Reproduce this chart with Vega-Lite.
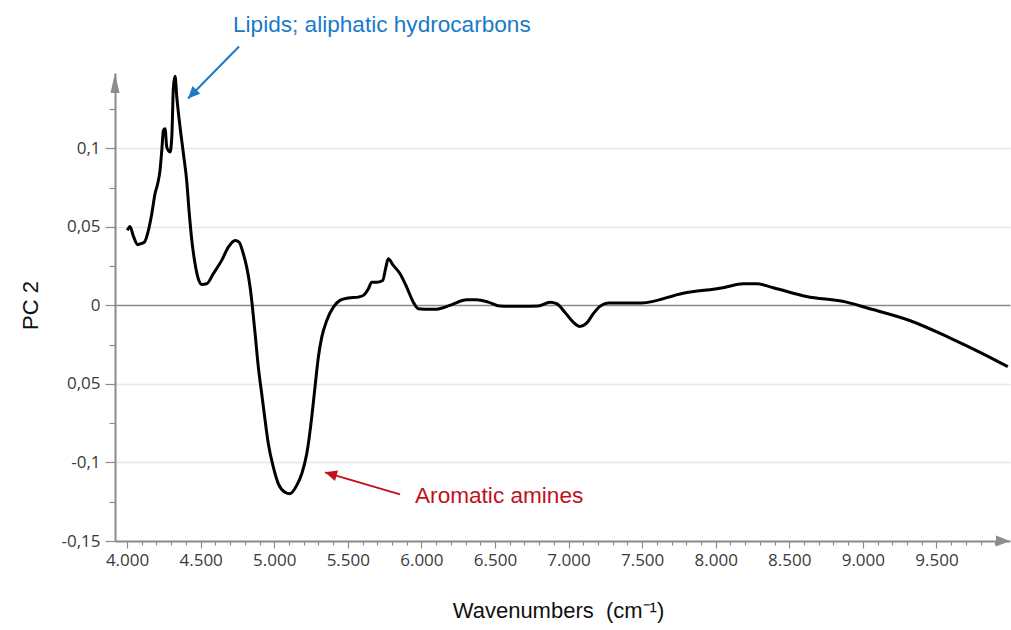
{
  "$schema": "https://vega.github.io/schema/vega-lite/v6.json",
  "width": 895,
  "height": 468,
  "autosize": "none",
  "padding": {"left": 115, "top": 73, "right": 1, "bottom": 89},
  "background": "white",
  "config": {"view": {"stroke": null}},
  "datasets": {
    "curve": [
      {"wn": 4002, "pc2": 0.0478}, {"wn": 4020, "pc2": 0.0503}, {"wn": 4041, "pc2": 0.0446},
      {"wn": 4073, "pc2": 0.0387}, {"wn": 4100, "pc2": 0.0395}, {"wn": 4118, "pc2": 0.0403},
      {"wn": 4145, "pc2": 0.0478}, {"wn": 4168, "pc2": 0.0584}, {"wn": 4190, "pc2": 0.0711},
      {"wn": 4208, "pc2": 0.0775}, {"wn": 4224, "pc2": 0.086}, {"wn": 4236, "pc2": 0.0987},
      {"wn": 4247, "pc2": 0.1115}, {"wn": 4258, "pc2": 0.1125}, {"wn": 4270, "pc2": 0.1008},
      {"wn": 4292, "pc2": 0.0977}, {"wn": 4304, "pc2": 0.1072}, {"wn": 4315, "pc2": 0.139},
      {"wn": 4326, "pc2": 0.1459}, {"wn": 4338, "pc2": 0.1327}, {"wn": 4360, "pc2": 0.1136},
      {"wn": 4383, "pc2": 0.0966}, {"wn": 4405, "pc2": 0.0796}, {"wn": 4421, "pc2": 0.0605},
      {"wn": 4440, "pc2": 0.0414}, {"wn": 4462, "pc2": 0.0266}, {"wn": 4484, "pc2": 0.017},
      {"wn": 4507, "pc2": 0.0134}, {"wn": 4541, "pc2": 0.0138}, {"wn": 4586, "pc2": 0.0202},
      {"wn": 4643, "pc2": 0.0287}, {"wn": 4688, "pc2": 0.0371}, {"wn": 4734, "pc2": 0.0414},
      {"wn": 4761, "pc2": 0.0403}, {"wn": 4790, "pc2": 0.0329}, {"wn": 4813, "pc2": 0.0244},
      {"wn": 4836, "pc2": 0.0117}, {"wn": 4847, "pc2": 0.0032}, {"wn": 4870, "pc2": -0.018},
      {"wn": 4892, "pc2": -0.0393}, {"wn": 4915, "pc2": -0.0562}, {"wn": 4938, "pc2": -0.0732},
      {"wn": 4960, "pc2": -0.0881}, {"wn": 4994, "pc2": -0.103}, {"wn": 5028, "pc2": -0.1136},
      {"wn": 5073, "pc2": -0.1189}, {"wn": 5107, "pc2": -0.1199}, {"wn": 5153, "pc2": -0.1146},
      {"wn": 5187, "pc2": -0.1072}, {"wn": 5221, "pc2": -0.0945}, {"wn": 5255, "pc2": -0.0711},
      {"wn": 5277, "pc2": -0.052}, {"wn": 5300, "pc2": -0.0329}, {"wn": 5323, "pc2": -0.0202},
      {"wn": 5357, "pc2": -0.0096}, {"wn": 5402, "pc2": -0.0011}, {"wn": 5447, "pc2": 0.0032},
      {"wn": 5504, "pc2": 0.0047}, {"wn": 5572, "pc2": 0.0053}, {"wn": 5606, "pc2": 0.0064},
      {"wn": 5640, "pc2": 0.0106}, {"wn": 5662, "pc2": 0.0148}, {"wn": 5696, "pc2": 0.0148},
      {"wn": 5737, "pc2": 0.0159}, {"wn": 5759, "pc2": 0.0244}, {"wn": 5775, "pc2": 0.0297},
      {"wn": 5809, "pc2": 0.0255}, {"wn": 5855, "pc2": 0.0202}, {"wn": 5900, "pc2": 0.0117},
      {"wn": 5945, "pc2": 0.0021}, {"wn": 5979, "pc2": -0.0021}, {"wn": 6058, "pc2": -0.0025},
      {"wn": 6092, "pc2": -0.0025}, {"wn": 6194, "pc2": 0}, {"wn": 6308, "pc2": 0.0036},
      {"wn": 6375, "pc2": 0.0036}, {"wn": 6454, "pc2": 0.0021}, {"wn": 6534, "pc2": -0.0004},
      {"wn": 6670, "pc2": -0.0006}, {"wn": 6794, "pc2": -0.0004}, {"wn": 6874, "pc2": 0.0021},
      {"wn": 6919, "pc2": 0.0011}, {"wn": 6975, "pc2": -0.0043}, {"wn": 7032, "pc2": -0.0106},
      {"wn": 7077, "pc2": -0.0134}, {"wn": 7123, "pc2": -0.0113}, {"wn": 7168, "pc2": -0.0053},
      {"wn": 7213, "pc2": -0.0006}, {"wn": 7270, "pc2": 0.0015}, {"wn": 7496, "pc2": 0.0015},
      {"wn": 7779, "pc2": 0.0078}, {"wn": 8051, "pc2": 0.0113}, {"wn": 8187, "pc2": 0.0138},
      {"wn": 8278, "pc2": 0.0138}, {"wn": 8391, "pc2": 0.0113}, {"wn": 8617, "pc2": 0.0057},
      {"wn": 8889, "pc2": 0.0021}, {"wn": 9025, "pc2": -0.0015}, {"wn": 9318, "pc2": -0.0096},
      {"wn": 9590, "pc2": -0.0206}, {"wn": 9817, "pc2": -0.0308}, {"wn": 9985, "pc2": -0.039}
    ],
    "notes": [
      {"label": "Lipids; aliphatic hydrocarbons", "color": "blue", "tx": 4720, "ty": 0.1738, "x1": 4761, "y1": 0.1649, "x2": 4414, "y2": 0.1318, "ang": 224.4},
      {"label": "Aromatic amines", "color": "red", "tx": 5957, "ty": -0.1261, "x1": 5855, "y1": -0.1203, "x2": 5345, "y2": -0.1063, "ang": 286.3}
    ],
    "axisEnds": [
      {"wn": 3918, "pc2": 0.148, "dir": "up"},
      {"wn": 10000, "pc2": -0.15, "dir": "right"}
    ]
  },
  "layer": [
    {
      "data": {"name": "curve"},
      "mark": {"type": "line", "opacity": 0},
      "encoding": {
        "x": {"field": "wn", "type": "quantitative", "scale": {"domain": [3918, 10000], "nice": false, "zero": false},
          "axis": {"orient": "bottom", "values": [4100,4200,4300,4400,4600,4700,4800,4900,5100,5200,5300,5400,5600,5700,5800,5900,6100,6200,6300,6400,6600,6700,6800,6900,7100,7200,7300,7400,7600,7700,7800,7900,8100,8200,8300,8400,8600,8700,8800,8900,9100,9200,9300,9400,9600,9700,9800,9900],
            "labels": false, "domain": false, "grid": false, "title": null, "tickSize": 4, "tickColor": "#8c8c8c", "tickWidth": 1.2}},
        "y": {"field": "pc2", "type": "quantitative", "scale": {"domain": [-0.15, 0.148], "nice": false, "zero": false},
          "axis": {"orient": "left", "values": [-0.125, -0.075, -0.025, 0.025, 0.075, 0.125],
            "labels": false, "domain": false, "grid": false, "title": null, "tickSize": 6, "tickColor": "#8c8c8c", "tickWidth": 1.2}}
      }
    },
    {
      "data": {"name": "curve"},
      "mark": {"type": "line", "color": "black", "strokeWidth": 3, "interpolate": "monotone"},
      "encoding": {
        "x": {"field": "wn", "type": "quantitative",
          "axis": {"orient": "bottom", "values": [4000,4500,5000,5500,6000,6500,7000,7500,8000,8500,9000,9500],
            "labelExpr": "replace(format(datum.value, ','), ',', '.')",
            "labelFont": "Open Sans", "labelFontSize": 17, "labelColor": "#3a3a3a", "labelPadding": 4,
            "tickSize": 7, "tickColor": "#8c8c8c", "tickWidth": 1.2,
            "domainColor": "#8c8c8c", "domainWidth": 2, "grid": false,
            "title": "Wavenumbers\u00a0 (cm⁻¹)", "titleFont": "Liberation Sans", "titleFontSize": 22, "titleFontWeight": "normal",
            "titleColor": "#111", "titleX": 443, "titleY": 69, "titleBaseline": "middle", "titleAlign": "center"}},
        "y": {"field": "pc2", "type": "quantitative",
          "axis": {"orient": "left", "values": [-0.15, -0.1, -0.05, 0, 0.05, 0.1],
            "labelExpr": "datum.value < -0.12 ? '-0,15' : datum.value < -0.07 ? '-0,1' : datum.value < -0.02 ? '0,05' : datum.value < 0.02 ? '0' : datum.value < 0.07 ? '0,05' : '0,1'",
            "labelFont": "Open Sans", "labelFontSize": 17, "labelColor": "#3a3a3a", "labelPadding": 5,
            "tickSize": 10, "tickColor": "#8c8c8c", "tickWidth": 1.2,
            "domainColor": "#8c8c8c", "domainWidth": 2,
            "grid": true, "gridColor": {"condition": {"test": "datum.value === 0", "value": "#8a8a8a"}, "value": "#e6e6e6"},
            "gridWidth": 1.5,
            "title": "PC 2", "titleFont": "Liberation Sans", "titleFontSize": 22, "titleFontWeight": "normal",
            "titleColor": "#111", "titleX": -85, "titleY": 232, "titleAngle": -90, "titleBaseline": "middle", "titleAlign": "center"}}
      }
    },
    {
      "data": {"name": "notes"},
      "mark": {"type": "rule", "strokeWidth": 2},
      "encoding": {
        "x": {"field": "x1", "type": "quantitative", "axis": null},
        "y": {"field": "y1", "type": "quantitative", "axis": null},
        "x2": {"field": "x2"},
        "y2": {"field": "y2"},
        "color": {"field": "color", "type": "nominal", "scale": {"domain": ["blue", "red"], "range": ["#1a7ac8", "#c0121c"]}, "legend": null}
      }
    },
    {
      "data": {"name": "notes"},
      "mark": {"type": "point", "filled": true, "opacity": 1, "shape": "M0,0 L-0.9,2 L0.9,2 Z", "size": 144, "strokeWidth": 0},
      "encoding": {
        "x": {"field": "x2", "type": "quantitative", "axis": null},
        "y": {"field": "y2", "type": "quantitative", "axis": null},
        "angle": {"field": "ang", "type": "quantitative", "scale": null},
        "color": {"field": "color", "type": "nominal", "scale": {"domain": ["blue", "red"], "range": ["#1a7ac8", "#c0121c"]}, "legend": null}
      }
    },
    {
      "data": {"name": "notes"},
      "mark": {"type": "text", "align": "left", "baseline": "alphabetic", "font": "Liberation Sans", "fontSize": 22.6},
      "encoding": {
        "x": {"field": "tx", "type": "quantitative", "axis": null},
        "y": {"field": "ty", "type": "quantitative", "axis": null},
        "text": {"field": "label"},
        "color": {"field": "color", "type": "nominal", "scale": {"domain": ["blue", "red"], "range": ["#1a7ac8", "#c0121c"]}, "legend": null}
      }
    },
    {
      "data": {"name": "axisEnds"},
      "transform": [{"filter": "datum.dir === 'up'"}],
      "mark": {"type": "point", "filled": true, "opacity": 1, "color": "#8c8c8c", "shape": "M0,0 L-0.45,2 L0.45,2 Z", "size": 400, "strokeWidth": 0},
      "encoding": {
        "x": {"field": "wn", "type": "quantitative", "axis": null},
        "y": {"field": "pc2", "type": "quantitative", "axis": null}
      }
    },
    {
      "data": {"name": "axisEnds"},
      "transform": [{"filter": "datum.dir === 'right'"}],
      "mark": {"type": "point", "filled": true, "opacity": 1, "color": "#8c8c8c", "shape": "M0,0 L-2,-0.8 L-2,0.8 Z", "size": 196, "strokeWidth": 0},
      "encoding": {
        "x": {"field": "wn", "type": "quantitative", "axis": null},
        "y": {"field": "pc2", "type": "quantitative", "axis": null}
      }
    }
  ],
  "resolve": {"axis": {"x": "independent", "y": "independent"}}
}
